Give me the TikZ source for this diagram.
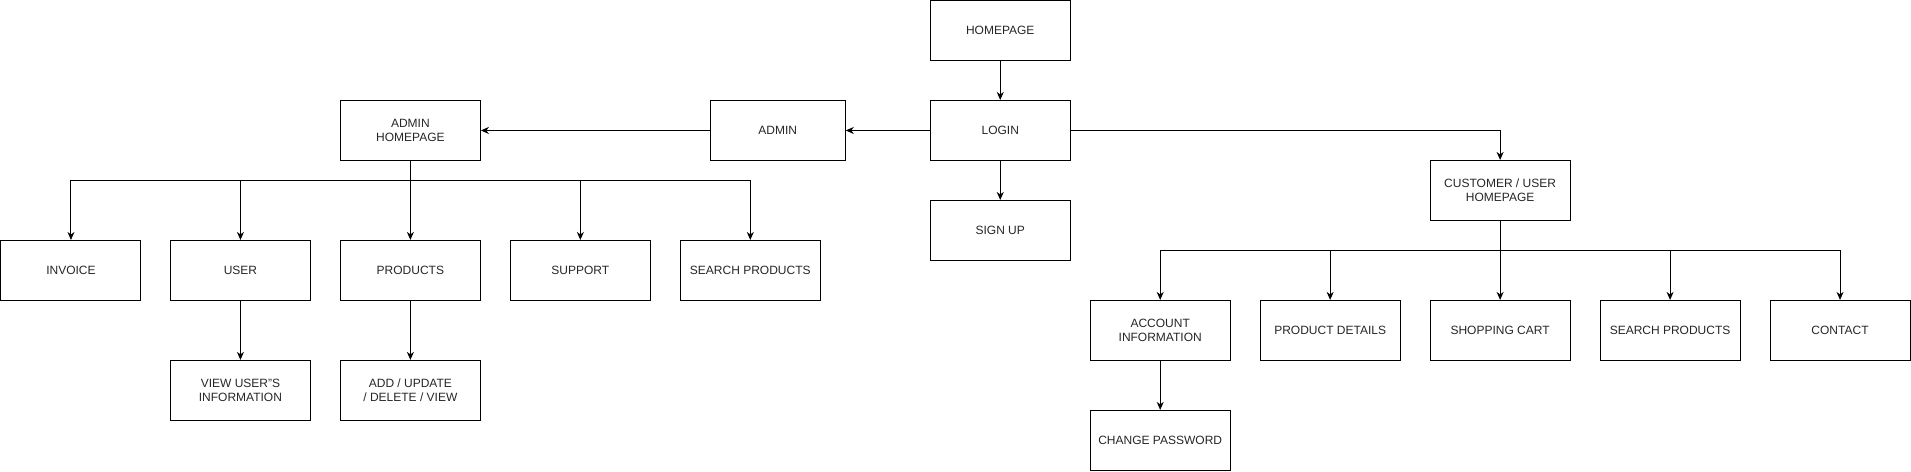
\documentclass[tikz,border=0pt]{standalone}
\usepackage{fontspec}
\setmainfont{Liberation Sans}
\usetikzlibrary{arrows.meta}
\begin{document}
\begin{tikzpicture}[x=1pt,y=-1pt,
  box/.style={draw=black, line width=1pt, minimum width=140pt, minimum height=60pt,
    inner sep=0pt, align=center, text=black!85, font=\fontsize{12}{14.5}\selectfont},
  conn/.style={draw=black, line width=1pt, -{Stealth[length=8pt,width=7pt,inset=2.5pt]}}]
\useasboundingbox (-0.5,-0.5) rectangle (1911,471);
% top
\node[box] (home) at (1000,30) {HOMEPAGE};
\node[box] (login) at (1000,130) {LOGIN};
\node[box] (signup) at (1000,230) {SIGN UP};
\node[box, minimum width=135pt] (admin) at (777.5,130) {ADMIN};
\node[box] (ahome) at (410,130) {ADMIN\\HOMEPAGE};
\node[box] (chome) at (1500,190) {CUSTOMER / USER\\HOMEPAGE};
% admin children
\node[box] (invoice) at (70.5,270) {INVOICE};
\node[box] (user) at (240,270) {USER};
\node[box] (products) at (410,270) {PRODUCTS};
\node[box] (support) at (580,270) {SUPPORT};
\node[box] (asearch) at (750,270) {SEARCH PRODUCTS};
\node[box] (viewuser) at (240,390) {VIEW USER"S\\INFORMATION};
\node[box] (addupd) at (410,390) {ADD / UPDATE\\/ DELETE / VIEW};
% customer children
\node[box] (account) at (1160,330) {ACCOUNT\\INFORMATION};
\node[box] (pdetails) at (1330,330) {PRODUCT DETAILS};
\node[box] (cart) at (1500,330) {SHOPPING CART};
\node[box] (csearch) at (1670,330) {SEARCH PRODUCTS};
\node[box] (contact) at (1840,330) {CONTACT};
\node[box] (chpass) at (1160,440) {CHANGE PASSWORD};
% connectors
\draw[conn] (home) -- (login);
\draw[conn] (login) -- (signup);
\draw[conn] (login) -- (admin);
\draw[conn] (admin) -- (ahome);
\draw[conn] (login.east) -| (chome.north);
\foreach \c in {invoice,user,products,support,asearch}
  \draw[conn] (ahome.south) -- ++(0,20) -| (\c.north);
\foreach \c in {account,pdetails,cart,csearch,contact}
  \draw[conn] (chome.south) -- ++(0,30) -| (\c.north);
\draw[conn] (user) -- (viewuser);
\draw[conn] (products) -- (addupd);
\draw[conn] (account) -- (chpass);
\end{tikzpicture}
\end{document}
